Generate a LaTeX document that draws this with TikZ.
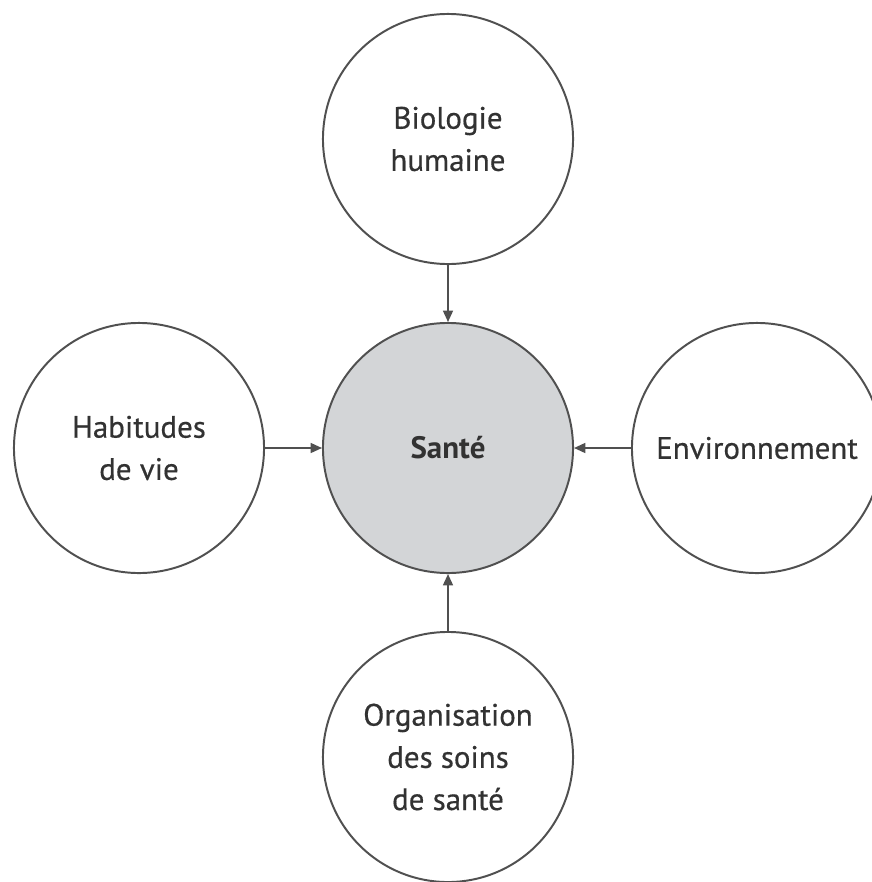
\documentclass[tikz,border=0pt]{standalone}
\usepackage{fontspec}
\setmainfont{PT Sans}
\newfontfamily\factorfont[FakeBold=0.5]{PT Sans}
\usetikzlibrary{arrows.meta}

\definecolor{linegray}{RGB}{80,80,80}
\definecolor{textgray}{RGB}{50,50,50}
\definecolor{santefill}{RGB}{211,213,215}

\tikzset{
    factor/.style={circle, draw=linegray, line width=1.4pt, fill=white,
        minimum size=6.25cm, inner sep=0pt, align=center, text=textgray,
        font=\factorfont\fontsize{22}{30}\selectfont},
    centre/.style={factor, fill=santefill, font=\rmfamily\fontsize{22}{30}\selectfont\bfseries},
    arrow/.style={-{Triangle[length=8pt,width=7pt]}, draw=linegray, line width=1.2pt}
}

\begin{document}
\begin{tikzpicture}[x=0.025cm, y=-0.025cm]
    % fix the margins
    \useasboundingbox (0,0) rectangle (872,882);

    % the central circle
    \node[centre] (sante) at (448,448) {Sant\'e};

    % the four factors
    \node[factor] (bio)  at (448,139) {Biologie\\humaine};
    \node[factor] (habi) at (139,448) {Habitudes\\de vie};
    \node[factor] (envi) at (757,448) {Environnement};
    \node[factor] (orga) at (448,757) {Organisation\\des soins\\de sant\'e};

    % the arrows
    \draw[arrow] (bio)  -- (sante);
    \draw[arrow] (habi) -- (sante);
    \draw[arrow] (envi) -- (sante);
    \draw[arrow] (orga) -- (sante);
\end{tikzpicture}
\end{document}
